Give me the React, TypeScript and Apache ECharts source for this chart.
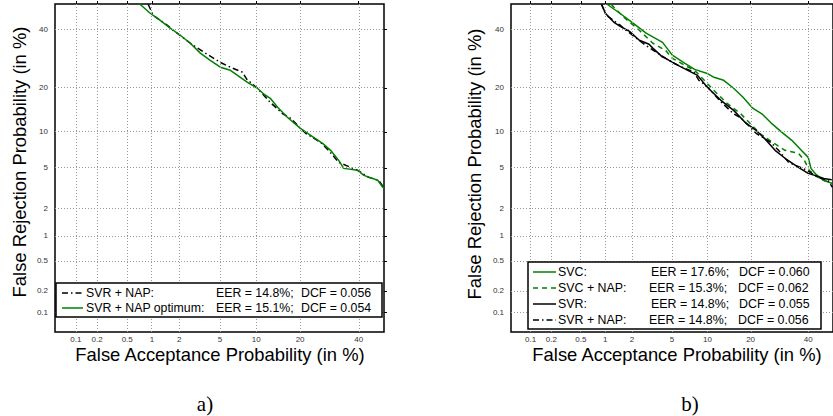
import React, { useEffect, useRef } from "react";
import * as echarts from "echarts";

// ---- Tick labels (percent) ----
const tickPercents = [0.1, 0.2, 0.5, 1, 2, 5, 10, 20, 40];
const tickLabels = ["0.1", "0.2", "0.5", "1", "2", "5", "10", "20", "40"];

// ---- Panel a) ----
const aSvrNapFA = [0.9, 1.03, 1.24, 1.48, 1.72, 1.9, 2.6, 2.79, 3.81, 5.03, 6.17, 7.78, 8.54, 9.02, 10.2, 12.7, 15.4, 17.4, 21.6, 26.2, 28.9, 32.5, 39.6, 43.9, 47.9, 49.8];
const aSvrNapFR = [49.9, 45.5, 43.5, 41.6, 39.6, 38.5, 34.7, 33.9, 30.7, 27.9, 26.3, 24.7, 22.2, 21.6, 19.9, 16.2, 13.6, 12.6, 9.73, 8.27, 7.11, 5.61, 4.76, 4.1, 3.85, 3.3];
const aOptFA = [0.72, 0.95, 1.24, 1.6, 2.05, 2.6, 3.27, 4.07, 5.03, 6.17, 7.48, 8.54, 10.2, 11.5, 12.7, 14.3, 16.6, 20.1, 24.0, 26.9, 29.6, 32.5, 34.3, 39.6, 42.0, 47.5, 49.5, 50];
const aOptFR = [49.9, 46.3, 43.5, 40.4, 37.7, 34.7, 31.1, 28.6, 26.3, 25.3, 23.1, 21.6, 19.9, 18.2, 17.2, 15.0, 12.8, 10.6, 9.06, 8.11, 7.11, 5.84, 4.96, 4.76, 4.28, 3.85, 3.3, 3.22];

// ---- Panel b) ----
const bSvcFA = [1.05, 1.47, 2.07, 2.81, 4.08, 5.03, 6.52, 7.87, 9.94, 11.2, 13.2, 15.5, 17.9, 20.6, 23.6, 26.8, 30.1, 33.7, 37.3, 40.0, 41.1, 43.1, 46.2, 49.5];
const bSvcFR = [49.9, 46.3, 42.3, 38.5, 35.0, 30.4, 27.6, 25.6, 24.3, 23.1, 22.2, 19.9, 17.5, 14.8, 13.4, 11.4, 9.9, 8.57, 7.11, 6.2, 4.96, 4.37, 3.85, 3.6];
const bSvcNapFA = [1.17, 1.26, 1.63, 2.39, 3.28, 4.35, 5.03, 6.52, 7.87, 9.42, 11.2, 13.9, 17.2, 19.8, 22.7, 26.8, 31.2, 36.2, 38.5, 40.4, 43.9, 46.2, 49.5];
const bSvcNapFR = [49.9, 48.7, 44.7, 39.6, 34.7, 32.1, 29.3, 26.9, 25.3, 22.2, 19.3, 16.0, 13.6, 11.6, 9.73, 8.27, 7.11, 6.71, 5.84, 4.76, 4.1, 3.85, 3.6];
const bSvrFA = [0.9, 1.0, 1.26, 1.47, 1.88, 2.39, 3.01, 3.28, 4.08, 4.35, 5.67, 6.9, 8.32, 9.94, 12.6, 15.5, 18.7, 21.5, 24.5, 27.7, 31.2, 36.2, 40.0, 45.1, 46.2, 49.5];
const bSvrFR = [49.9, 46.3, 42.7, 41.2, 39.2, 35.8, 34.3, 32.9, 29.7, 29.3, 26.9, 25.3, 23.7, 20.2, 16.7, 14.3, 11.6, 10.3, 8.72, 7.11, 6.09, 5.06, 4.47, 4.1, 4.01, 3.9];
const bSvrNapFA = aSvrNapFA;
const bSvrNapFR = aSvrNapFR;

// ---- Legend texts ----
const aLegendNames = ["SVR + NAP:", "SVR + NAP optimum:"];
const aLegendEER = ["EER = 14.8%;", "EER = 15.1%;"];
const aLegendDCF = ["DCF = 0.056", "DCF = 0.054"];
const bLegendNames = ["SVC:", "SVC + NAP:", "SVR:", "SVR + NAP:"];
const bLegendEER = ["EER = 17.6%;", "EER = 15.3%;", "EER = 14.8%;", "EER = 14.8%;"];
const bLegendDCF = ["DCF = 0.060", "DCF = 0.062", "DCF = 0.055", "DCF = 0.056"];

const GREEN = "#008000";
const BLACK = "#000000";
const DASHDOT = [6, 3, 1.5, 3];
const DASHED = [5, 4];
const FONT = "'Liberation Sans', Arial, Helvetica, sans-serif";
const SERIF = "'Liberation Serif', 'Times New Roman', serif";

function probit(p: number): number {
  const a = [-3.969683028665376e1, 2.209460984245205e2, -2.759285104469687e2, 1.38357751867269e2, -3.066479806614716e1, 2.506628277459239];
  const b = [-5.447609879822406e1, 1.615858368580409e2, -1.556989798598866e2, 6.680131188771972e1, -1.328068155288572e1];
  const c = [-7.784894002430293e-3, -3.223964580411365e-1, -2.400758277161838, -2.549732539343734, 4.374664141464968, 2.938163982698783];
  const d = [7.784695709041462e-3, 3.224671290700398e-1, 2.445134137142996, 3.754408661907416];
  const pl = 0.02425;
  if (p < pl) {
    const q = Math.sqrt(-2 * Math.log(p));
    return (((((c[0] * q + c[1]) * q + c[2]) * q + c[3]) * q + c[4]) * q + c[5]) / ((((d[0] * q + d[1]) * q + d[2]) * q + d[3]) * q + 1);
  }
  if (p <= 1 - pl) {
    const q = p - 0.5;
    const r = q * q;
    return ((((((a[0] * r + a[1]) * r + a[2]) * r + a[3]) * r + a[4]) * r + a[5]) * q) / (((((b[0] * r + b[1]) * r + b[2]) * r + b[3]) * r + b[4]) * r + 1);
  }
  const q = Math.sqrt(-2 * Math.log(1 - p));
  return -(((((c[0] * q + c[1]) * q + c[2]) * q + c[3]) * q + c[4]) * q + c[5]) / ((((d[0] * q + d[1]) * q + d[2]) * q + d[3]) * q + 1);
}

const tickZ = tickPercents.map((t) => probit(t / 100));
const fmt = (v: number) => {
  for (let i = 0; i < tickZ.length; i++) if (Math.abs(tickZ[i] - v) < 1e-6) return tickLabels[i];
  return "";
};
const toPts = (fa: number[], fr: number[]) => fa.map((f, i) => [probit(f / 100), probit(fr[i] / 100)]);

export default function App() {
  const ref = useRef<HTMLDivElement>(null);
  useEffect(() => {
    if (!ref.current) return;
    const chart = echarts.init(ref.current, undefined, { renderer: "svg" });

    const mkX = (gi: number, min: number) => ({
      gridIndex: gi,
      type: "value",
      min,
      max: 0,
      axisLine: { show: false },
      splitLine: { show: false },
      axisTick: { show: true, inside: true, length: 3, customValues: tickZ, lineStyle: { color: "#000" } },
      axisLabel: { customValues: tickZ, formatter: fmt, fontSize: 8, lineHeight: 8, color: "#333", margin: 3, fontFamily: FONT },
    });
    const mkY = (gi: number) => ({
      gridIndex: gi,
      type: "value",
      min: -3.29,
      max: 0,
      axisLine: { show: false },
      splitLine: { show: false },
      axisTick: { show: true, inside: true, length: 3, customValues: tickZ, lineStyle: { color: "#000" } },
      axisLabel: { customValues: tickZ, formatter: fmt, fontSize: 8, color: "#333", margin: 7, fontFamily: FONT },
    });
    const gridLines = (gi: number) => ({
      type: "line",
      xAxisIndex: gi,
      yAxisIndex: gi,
      data: [],
      z: 1,
      silent: true,
      markLine: {
        silent: true,
        symbol: ["none", "none"],
        label: { show: false },
        lineStyle: { type: [1, 2], color: "#999", width: 1 },
        data: [...tickZ.map((z) => ({ xAxis: z })), ...tickZ.map((z) => ({ yAxis: z }))],
      },
    });
    const curve = (gi: number, fa: number[], fr: number[], color: string, type: any) => ({
      type: "line",
      xAxisIndex: gi,
      yAxisIndex: gi,
      data: toPts(fa, fr),
      symbol: "none",
      showSymbol: false,
      clip: true,
      z: 3,
      lineStyle: { color, width: 1.5, type },
    });

    const graphic: any[] = [];
    const txt = (x: number, y: number, text: string, size: number, extra: any = {}) =>
      graphic.push({
        type: "text",
        x,
        y,
        z: 200,
        rotation: extra.rotation || 0,
        style: {
          text,
          fontSize: size,
          lineHeight: size,
          fontFamily: extra.fontFamily || FONT,
          fill: "#000",
          align: extra.align || "left",
          verticalAlign: "middle",
        },
      });
    const sample = (x1: number, x2: number, y: number, color: string, dash: any) =>
      graphic.push({
        type: "line",
        z: 150,
        shape: { x1, y1: y, x2, y2: y },
        style: { stroke: color, lineWidth: 1.5, lineDash: dash },
      });

    // axis titles
    txt(19, 162, "False Rejection Probability (in %)", 18.4, { rotation: Math.PI / 2, align: "center" });
    txt(474, 164, "False Rejection Probability (in %)", 18.4, { rotation: Math.PI / 2, align: "center" });
    txt(220, 354, "False Acceptance Probability (in %)", 18.4, { align: "center" });
    txt(677, 354, "False Acceptance Probability (in %)", 18.4, { align: "center" });
    txt(205, 404, "a)", 21, { align: "center", fontFamily: SERIF });
    txt(690, 404, "b)", 21, { align: "center", fontFamily: SERIF });

    // legend a
    graphic.push({ type: "rect", z: 140, shape: { x: 56, y: 283, width: 326, height: 34 }, style: { fill: "#fff", stroke: "#000", lineWidth: 1.5 } });
    const aRows = [293, 308];
    const aStyles = [[BLACK, DASHDOT], [GREEN, null]];
    aRows.forEach((y, i) => {
      sample(62, 83, y, aStyles[i][0] as string, aStyles[i][1]);
      txt(86, y, aLegendNames[i], 12.3);
      txt(216, y, aLegendEER[i], 12.3);
      txt(301, y, aLegendDCF[i], 12.3);
    });

    // legend b
    graphic.push({ type: "rect", z: 140, shape: { x: 528, y: 262, width: 293, height: 67 }, style: { fill: "#fff", stroke: "#000", lineWidth: 1.5 } });
    const bRows = [272, 288, 304, 320];
    const bStyles = [[GREEN, null], [GREEN, DASHED], [BLACK, null], [BLACK, DASHDOT]];
    const bEerX = [651, 649, 651, 649];
    const bDcfX = [739, 738, 739, 738];
    bRows.forEach((y, i) => {
      sample(533, 556, y, bStyles[i][0] as string, bStyles[i][1]);
      txt(558, y, bLegendNames[i], 12.4);
      txt(bEerX[i], y, bLegendEER[i], 12.4);
      txt(bDcfX[i], y, bLegendDCF[i], 12.4);
    });

    chart.setOption({
      animation: false,
      backgroundColor: "#fff",
      grid: [
        { left: 55, top: 4, width: 329, height: 328, show: true, borderColor: "#000", borderWidth: 1.5, backgroundColor: "transparent" },
        { left: 511, top: 4, width: 332, height: 328, show: true, borderColor: "#000", borderWidth: 1.5, backgroundColor: "transparent" },
      ],
      xAxis: [mkX(0, -3.3), mkX(1, -3.29)],
      yAxis: [mkY(0), mkY(1)],
      series: [
        gridLines(0),
        gridLines(1),
        curve(0, aSvrNapFA, aSvrNapFR, BLACK, DASHDOT),
        curve(0, aOptFA, aOptFR, GREEN, "solid"),
        curve(1, bSvcFA, bSvcFR, GREEN, "solid"),
        curve(1, bSvcNapFA, bSvcNapFR, GREEN, DASHED),
        curve(1, bSvrNapFA, bSvrNapFR, BLACK, DASHDOT),
        curve(1, bSvrFA, bSvrFR, BLACK, "solid"),
      ],
      graphic,
    });
    return () => chart.dispose();
  }, []);
  return <div ref={ref} style={{ position: "fixed", left: 0, top: 0, width: 833, height: 416, background: "#fff" }} />;
}
